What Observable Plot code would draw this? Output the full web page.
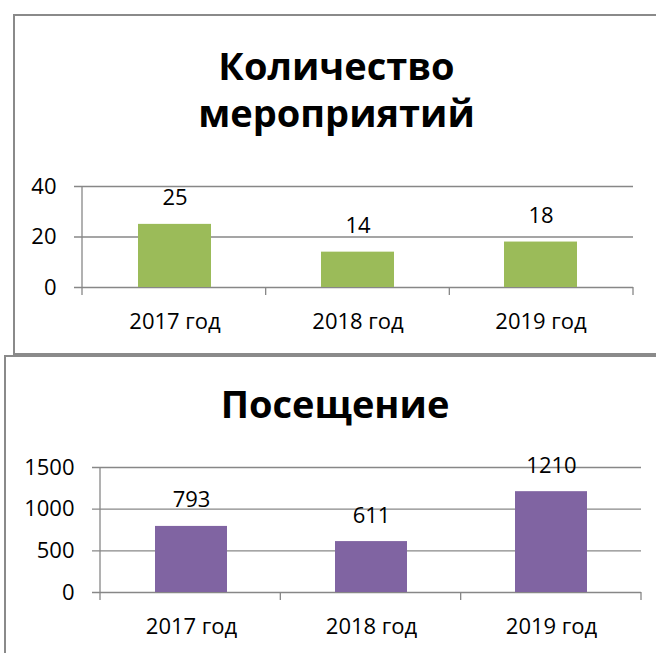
<!DOCTYPE html>
<html>
<head>
<meta charset="utf-8">
<script src="https://cdn.jsdelivr.net/npm/d3@7"></script>
<script src="https://cdn.jsdelivr.net/npm/@observablehq/plot@0.6"></script>
<style>
  body { margin: 0; background: #fff; }
  #page { position: relative; width: 656px; height: 653px; overflow: hidden; font-family: "Open Sans", sans-serif; background: #fff; }
  .box { position: absolute; border: 2px solid #8a8a8a; box-sizing: border-box; background: #fff; }
  .title { position: absolute; text-align: center; font-weight: 700; font-size: 38px; line-height: 47px; color: #000; white-space: nowrap; }
  .chart { position: absolute; left: 0; }
</style>
</head>
<body>
<div id="page">
  <div class="box" style="left:13px; top:14px; width:647px; height:341px;"></div>
  <div class="title" style="left:13px; top:42px; width:647px;">Количество<br>мероприятий</div>
  <div class="chart" id="c1" style="top:150px;"></div>
  <div class="box" style="left:4px; top:355px; width:662px; height:330px;"></div>
  <div class="title" style="left:4px; top:380px; width:662px;">Посещение</div>
  <div class="chart" id="c2" style="top:440px;"></div>
</div>
<script>
const years = ["2017 год", "2018 год", "2019 год"];
const eventCounts = [25, 14, 18];
const visits = [793, 611, 1210];
const eventTicks = [0, 20, 40];
const visitTicks = [0, 500, 1000, 1500];

const GRID = "#878787";

function chart({values, ticks, color, height, marginTop, marginBottom, marginLeft, marginRight}) {
  const data = years.map((y, i) => ({year: y, value: values[i]}));
  const max = ticks[ticks.length - 1];
  const frame = (index, scales, vals, dims) => {
    const g = d3.create("svg:g").attr("stroke", GRID).attr("stroke-width", 1.3).attr("fill", "none");
    const x0 = dims.marginLeft, x1 = dims.width - dims.marginRight;
    const yb = scales.y(0), yt = scales.y(max);
    g.append("line").attr("x1", x0).attr("x2", x0).attr("y1", yt).attr("y2", yb + 8);
    const n = years.length;
    for (let i = 1; i <= n; i++) {
      const xx = x0 + i * (x1 - x0) / n;
      g.append("line").attr("x1", xx).attr("x2", xx).attr("y1", yb).attr("y2", yb + 8);
    }
    return g.node();
  };
  return Plot.plot({
    width: 656,
    height,
    marginTop, marginBottom, marginLeft, marginRight,
    style: {background: "transparent", fontFamily: "'Open Sans', sans-serif", color: "#000", overflow: "visible"},
    x: {domain: years, paddingInner: 0.6, paddingOuter: 0.3},
    y: {domain: [0, max]},
    marks: [
      Plot.ruleY(ticks, {stroke: GRID, strokeWidth: 1.3, insetLeft: -8}),
      Plot.barY(data, {x: "year", y: "value", fill: color}),
      frame,
      Plot.text(data, {x: "year", y: "value", text: d => String(d.value), dy: -26, fontSize: 22, fill: "#000"}),
      Plot.axisY({ticks, tickSize: 0, tickPadding: 26, fontSize: 22, label: null, tickFormat: d => String(d)}),
      Plot.axisX({tickSize: 0, tickPadding: 26, fontSize: 22, label: null})
    ]
  });
}

document.getElementById("c1").appendChild(chart({
  values: eventCounts, ticks: eventTicks, color: "#9BBB59",
  height: 200, marginTop: 36, marginBottom: 63, marginLeft: 82, marginRight: 23
}));
document.getElementById("c2").appendChild(chart({
  values: visits, ticks: visitTicks, color: "#8064A2",
  height: 213, marginTop: 27, marginBottom: 61, marginLeft: 100, marginRight: 15
}));
</script>
</body>
</html>
